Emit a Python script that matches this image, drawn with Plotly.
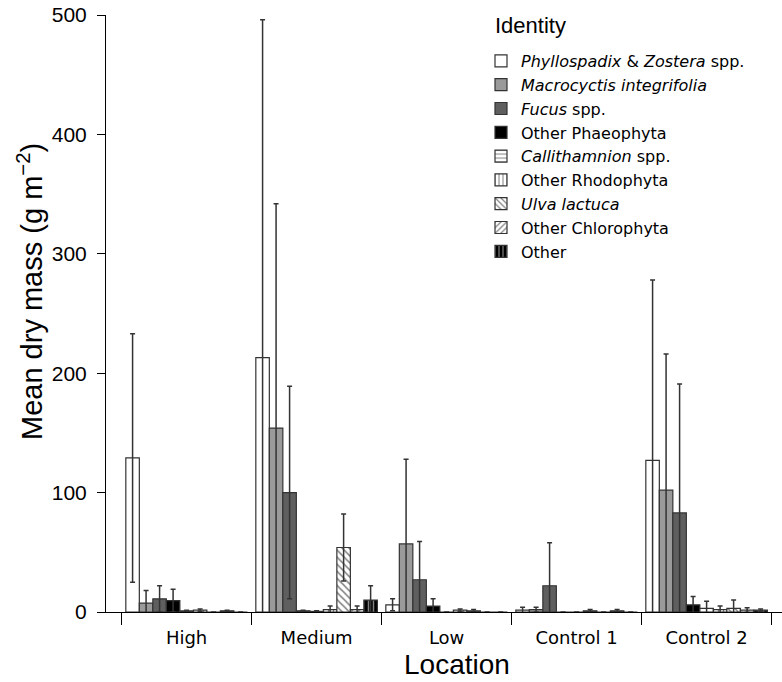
import plotly.graph_objects as go

locations = ["High", "Medium", "Low", "Control 1", "Control 2"]

identities = [
    "<i>Phyllospadix</i> &amp; <i>Zostera</i> spp.",
    "<i>Macrocyctis integrifolia</i>",
    "<i>Fucus</i> spp.",
    "Other Phaeophyta",
    "<i>Callithamnion</i> spp.",
    "Other Rhodophyta",
    "<i>Ulva lactuca</i>",
    "Other Chlorophyta",
    "Other",
]

# mean dry mass per identity, ordered by location
phyllospadix = [129, 213, 6, 1.5, 127]
macrocystis = [7.5, 154, 57, 2, 102]
fucus = [11, 100, 27, 22, 83]
other_phaeo = [9.5, 1, 5, 0, 6]
callithamnion = [1, 0.5, 0, 0, 3]
other_rhodo = [1.5, 2, 1.5, 1, 2]
ulva = [0, 54, 1, 0, 3]
other_chloro = [1, 2, 0, 1, 1.5]
other = [0, 10, 0, 0, 1.5]

# standard deviations
phyllospadix_sd = [104, 283, 5, 2.5, 151]
macrocystis_sd = [10.5, 188, 71, 2, 114]
fucus_sd = [11, 89, 32, 36, 108]
other_phaeo_sd = [9.5, 0.5, 6, 0, 7]
callithamnion_sd = [0.5, 0.5, 0, 0, 6]
other_rhodo_sd = [1, 3, 1, 1, 3]
ulva_sd = [0, 28, 1, 0, 7]
other_chloro_sd = [0.5, 3, 0, 1, 2]
other_sd = [0, 12, 0, 0, 1]

values = [phyllospadix, macrocystis, fucus, other_phaeo, callithamnion,
          other_rhodo, ulva, other_chloro, other]
errors = [phyllospadix_sd, macrocystis_sd, fucus_sd, other_phaeo_sd,
          callithamnion_sd, other_rhodo_sd, ulva_sd, other_chloro_sd, other_sd]

styles = [
    dict(color="white", pattern=dict(shape="")),
    dict(color="#9a9a9a", pattern=dict(shape="")),
    dict(color="#5f5f5f", pattern=dict(shape="")),
    dict(color="black", pattern=dict(shape="")),
    dict(color="white", pattern=dict(shape="-", fgcolor="black", bgcolor="white", size=5, solidity=0.25)),
    dict(color="white", pattern=dict(shape="|", fgcolor="black", bgcolor="white", size=5, solidity=0.25)),
    dict(color="white", pattern=dict(shape="\\", fgcolor="black", bgcolor="white", size=5, solidity=0.3)),
    dict(color="white", pattern=dict(shape="/", fgcolor="black", bgcolor="white", size=5, solidity=0.3)),
    dict(color="black", pattern=dict(shape="|", fgcolor="white", bgcolor="black", size=5, solidity=0.3)),
]

xpos = list(range(len(locations)))

fig = go.Figure()
for i, name in enumerate(identities):
    st = styles[i]
    fig.add_trace(go.Bar(
        x=xpos, y=values[i], name=name,
        legendgroup="g%d" % i,
        marker=dict(color=st["color"], pattern=st["pattern"],
                    line=dict(color="#333333", width=1.2)),
        error_y=dict(type="data", array=errors[i], symmetric=True,
                     color="#333333", thickness=1.5, width=2.5),
    ))

# invisible trace on the second x axis to show separator ticks
fig.add_trace(go.Scatter(x=[0], y=[0], xaxis="x2", mode="markers",
                         marker=dict(opacity=0), showlegend=False, hoverinfo="skip"))

W, H = 782, 682
L, T, B = 106, 15, 70
PW, PH = W - L, H - T - B


def px_x(p):
    return (p - L) / PW


def px_y(p):
    return 1 - (p - T) / PH


fig.add_annotation(
    text="Identity", xref="paper", yref="paper",
    x=px_x(493), y=px_y(25),
    xanchor="left", yanchor="middle", showarrow=False,
    font=dict(size=22),
)
fig.add_annotation(
    text="Location", xref="paper", yref="paper",
    x=px_x(457), y=px_y(665),
    xanchor="center", yanchor="middle", showarrow=False,
    font=dict(size=28),
)
fig.add_annotation(
    text="Mean dry mass (g m<sup>\u22122</sup>)", xref="paper", yref="paper",
    x=px_x(30), y=px_y(292), textangle=-90,
    xanchor="center", yanchor="middle", showarrow=False,
    font=dict(size=29),
)

fig.update_layout(
    width=W, height=H,
    margin=dict(l=L, r=0, t=T, b=B),
    paper_bgcolor="white", plot_bgcolor="white",
    barmode="group", bargap=0.065, bargroupgap=0,
    font=dict(family="Liberation Sans, Arial, sans-serif", color="black"),
    xaxis=dict(
        range=[-0.62, 4.58], tickvals=xpos, ticktext=locations,
        ticks="", showline=True, linecolor="black", linewidth=1,
        tickfont=dict(family="DejaVu Sans", size=18), ticklabelstandoff=9,
        showgrid=False, zeroline=False,
    ),
    xaxis2=dict(
        overlaying="x", matches="x", side="bottom", anchor="y",
        tickvals=[k - 0.5 for k in range(len(locations) + 1)],
        ticks="outside", ticklen=12, tickcolor="black", tickwidth=1.2,
        showticklabels=False, showgrid=False, zeroline=False, showline=False,
    ),
    yaxis=dict(
        range=[0, 500], tickvals=[0, 100, 200, 300, 400, 500],
        ticks="outside", ticklen=8, tickcolor="black", tickwidth=1.2,
        showline=True, linecolor="black", linewidth=1,
        tickfont=dict(size=21), ticklabelstandoff=6, showgrid=False, zeroline=False,
    ),
    legend=dict(
        x=px_x(481), y=px_y(44), xanchor="left", yanchor="top",
        font=dict(family="DejaVu Sans", size=16), tracegroupgap=0, traceorder="grouped",
        bgcolor="rgba(0,0,0,0)", itemwidth=30,
    ),
)

fig.write_html("out.html", config={"displayModeBar": False},
               post_script="document.body.style.margin='0';document.body.style.overflow='hidden';")
